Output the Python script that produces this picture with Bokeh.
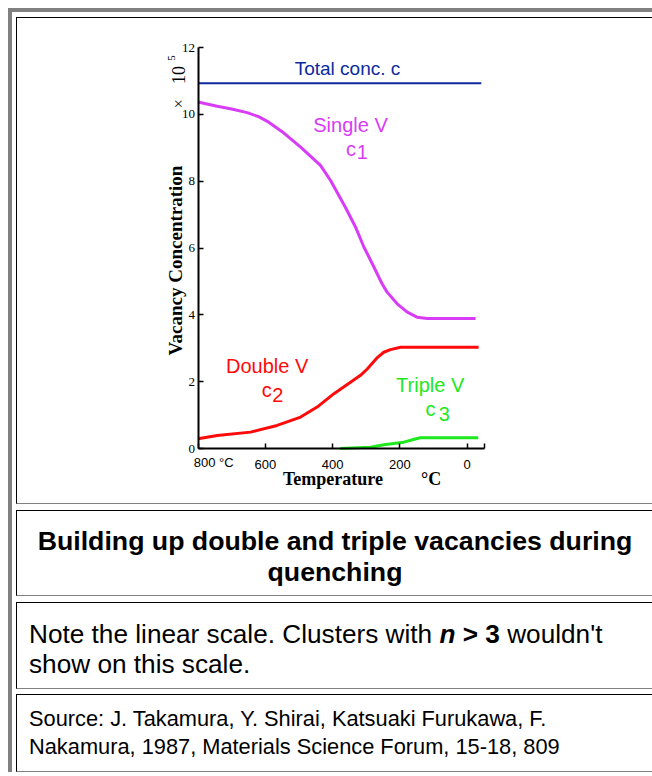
import math
from bokeh.plotting import figure
from bokeh.models import Range1d, FixedTicker, Label, Div
from bokeh.layouts import column
from bokeh.embed import file_html
from bokeh.resources import INLINE

try:
    from bokeh.models import GlobalInlineStyleSheet
except Exception:  # pragma: no cover
    GlobalInlineStyleSheet = None

# ---------------- data ----------------
x_ticks = [800, 600, 400, 200, 0, -50]
y_ticks = [0, 2, 4, 6, 8, 10, 12]

temp_total = [800, -42]
c_total = [10.93, 10.93]

temp_single = [800, 743, 700, 654, 620, 594, 550, 495, 436, 406, 362, 332, 307, 282,
               253, 238, 208, 178, 149, 119, 79, -25]
c1 = [10.37, 10.24, 10.16, 10.05, 9.93, 9.79, 9.48, 9.02, 8.47, 8.02, 7.22, 6.63, 6.03, 5.53,
      4.93, 4.68, 4.33, 4.08, 3.93, 3.89, 3.89, 3.89]

temp_double = [800, 743, 644, 565, 495, 446, 396, 317, 297, 267, 248, 228, 198, -34]
c2 = [0.29, 0.39, 0.49, 0.69, 0.94, 1.24, 1.64, 2.19, 2.38, 2.72, 2.88, 2.96, 3.03, 3.03]

temp_triple = [377, 287, 248, 188, 160, 139, -33]
c3 = [0.0, 0.04, 0.11, 0.19, 0.27, 0.32, 0.32]

title_text = "Building up double and triple vacancies during quenching"
note_html = "Note the linear scale. Clusters with <b><i>n</i> &gt; 3</b> wouldn't show on this scale."
source_text = "Source: J. Takamura, Y. Shirai, Katsuaki Furukawa, F. Nakamura, 1987, Materials Science Forum, 15-18, 809"

BLUE = "#0a2a9e"
MAGENTA = "#d93cf7"
RED = "#ff0a0a"
GREEN = "#1ee81e"

# ---------------- geometry of the chart cell ----------------
CELL_W = 664                    # the table runs past the right edge of the window
TEXT_W = 636                    # width in which the cell texts wrap
CW, CH = CELL_W - 2, 487        # canvas size
AX_LEFT, AX_RIGHT = 180.5, 466.5   # axis extent inside the canvas (px)
AX_TOP, AX_BOTTOM = 29.0, 430.0
X_LO, X_HI = 800.0, -50.0
Y_LO, Y_HI = 0.0, 12.0
kx = (AX_RIGHT - AX_LEFT) / (X_HI - X_LO)      # px per degree (negative)
ky = (AX_BOTTOM - AX_TOP) / (Y_HI - Y_LO)      # px per unit
x_start = X_LO - AX_LEFT / kx
x_end = x_start + CW / kx
y_end = Y_HI + AX_TOP / ky
y_start = y_end - CH / ky

p = figure(width=CW, height=CH,
           x_range=Range1d(x_start, x_end), y_range=Range1d(y_start, y_end),
           output_backend="svg", toolbar_location=None,
           min_border=0, min_border_left=0, min_border_right=0,
           min_border_top=0, min_border_bottom=0,
           margin=(5, 0, 0, 4),
           styles={"border-top": "1px solid #000", "border-left": "1px solid #000",
                   "border-bottom": "1px solid #808080"})
p.outline_line_color = None
p.xgrid.visible = False
p.ygrid.visible = False
p.background_fill_color = "white"
p.border_fill_color = "white"

p.line(temp_total, c_total, line_color=BLUE, line_width=2)
p.line(temp_single, c1, line_color=MAGENTA, line_width=3, line_join="round")
p.line(temp_double, c2, line_color=RED, line_width=3, line_join="round")
p.line(temp_triple, c3, line_color=GREEN, line_width=3, line_join="round")

xa = p.xaxis[0]
ya = p.yaxis[0]
xa.fixed_location = Y_LO
xa.bounds = (X_HI, X_LO)
ya.fixed_location = X_LO
ya.bounds = (Y_LO, Y_HI)
for ax in (xa, ya):
    ax.axis_line_width = 2
    ax.axis_line_color = "black"
    ax.major_tick_in = 5
    ax.major_tick_out = 0
    ax.major_tick_line_width = 1.5
    ax.minor_tick_line_color = None
    ax.major_label_text_color = "black"

xa.ticker = FixedTicker(ticks=x_ticks)
xa.major_label_overrides = {800: "", -50: ""}
xa.major_label_text_font = "Liberation Sans"
xa.major_label_text_font_size = "13px"
xa.major_label_standoff = 11

ya.ticker = FixedTicker(ticks=y_ticks)
ya.major_label_text_font = "Liberation Serif"
ya.major_label_text_font_size = "13px"
ya.major_label_standoff = 3

SANS = "Liberation Sans"
SERIF = "Liberation Serif"


def lab(x, y, text, color="black", size="20px", font=SANS, style="normal",
        align="center", angle=0.0):
    p.add_layout(Label(x=x, y=y, text=text, text_color=color, text_font_size=size,
                       text_font=font, text_font_style=style, text_align=align,
                       text_baseline="middle", angle=angle))


lab(355.7, 11.38, "Total conc. c", BLUE, "19px")
lab(346.8, 9.67, "Single V", MAGENTA)
lab(345.3, 8.95, "c", MAGENTA)
lab(312.0, 8.88, "1", MAGENTA)
lab(594.4, 2.46, "Double V", RED)
lab(595.5, 1.74, "c", RED)
lab(562.8, 1.59, "2", RED)
lab(110.0, 1.89, "Triple V", GREEN)
lab(109.0, 1.19, "c", GREEN)
lab(68.0, 1.02, "3", GREEN)

lab(812.5, -0.425, "800 °C", "black", "13px", SANS, align="left")
lab(398.8, -0.925, "Temperature", "black", "18px", SERIF, "bold")
lab(107.0, -0.925, "°C", "black", "18px", SERIF, "bold")
lab(866.9, 5.625, "Vacancy Concentration", "black", "19px", SERIF, "bold",
    angle=math.pi / 2)
lab(859.4, 11.18, "10", "black", "18px", SERIF, angle=math.pi / 2)
lab(858.0, 10.32, "×", "black", "16px", SERIF, angle=math.pi / 2)
lab(880.2, 11.685, "5", "black", "11px", SERIF, angle=math.pi / 2)

# ---------------- text cells ----------------
def cell(html, h, top_margin, extra, pad_lr):
    style = ("box-sizing:border-box;width:%dpx;height:%dpx;"
             "border-top:1px solid #000;border-left:1px solid #000;"
             "border-bottom:1px solid #808080;"
             "font-family:'Liberation Sans',Arial,sans-serif;color:#000;%s" % (CELL_W, h, extra))
    inner = '<div style="width:%dpx">%s</div>' % (TEXT_W - 2 * pad_lr, html)
    return Div(text='<div style="%s">%s</div>' % (style, inner),
               width=CELL_W, height=h, margin=(top_margin, 0, 0, 4))


title_div = cell('<div style="text-align:center">%s</div>' % title_text, 86, 6,
                 "padding:15px 6px 0 6px;font-weight:bold;"
                 "font-size:26.7px;line-height:31px;", 6)
note_div = cell(note_html, 87, 6,
                "padding:16px 12px 0 12px;font-size:26.2px;line-height:30px;", 12)
src_div = cell(source_text, 78, 5,
               "padding:10px 12px 0 12px;font-size:21.8px;line-height:28px;", 12)

page = column(p, title_div, note_div, src_div, margin=(8, 0, 0, 8),
              styles={"border-left": "4px solid #808080", "border-top": "4px solid #808080"})
if GlobalInlineStyleSheet is not None:
    page.stylesheets = [GlobalInlineStyleSheet(css="html, body { overflow: hidden !important; }")]

open("out.html", "w").write(file_html(page, INLINE))
